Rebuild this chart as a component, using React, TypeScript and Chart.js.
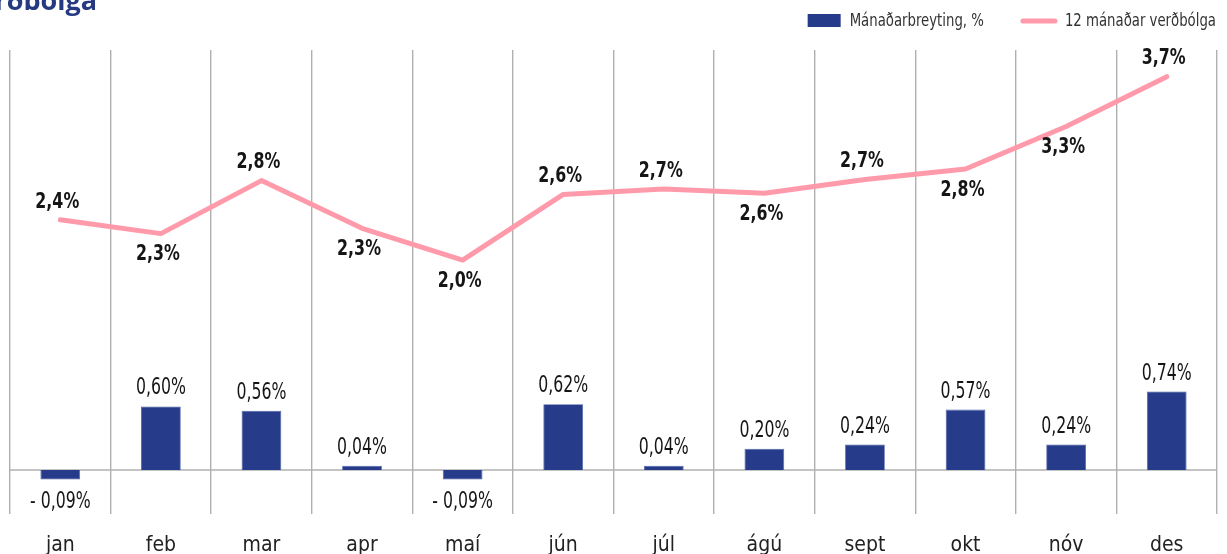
import React, { useEffect, useRef } from 'react';
import { Chart, registerables } from 'chart.js';

Chart.register(...registerables);

const chartTitle = 'Verðbólga';
const seriesNames = ['Mánaðarbreyting, %', '12 mánaðar verðbólga'];
const categories = ['jan', 'feb', 'mar', 'apr', 'maí', 'jún', 'júl', 'ágú', 'sept', 'okt', 'nóv', 'des'];
const monthlyChange = [-0.09, 0.6, 0.56, 0.04, -0.09, 0.62, 0.04, 0.2, 0.24, 0.57, 0.24, 0.74];
const inflation12m = [2.36, 2.23, 2.73, 2.28, 1.98, 2.6, 2.65, 2.61, 2.74, 2.84, 3.24, 3.71];
const inflationLabels = ['2,4%', '2,3%', '2,8%', '2,3%', '2,0%', '2,6%', '2,7%', '2,6%', '2,7%', '2,8%', '3,3%', '3,7%'];
const inflationLabelSide = ['above', 'below', 'above', 'below', 'below', 'above', 'above', 'below', 'above', 'below', 'below', 'above'];

const FONT = "'Liberation Sans Narrow', 'DejaVu Sans Condensed', 'Arial Narrow', 'Roboto', sans-serif";
const TITLE_FONT = "'Open Sans', 'Noto Sans', sans-serif";
const BAR_COLOR = '#263c8a';
const LINE_COLOR = '#ff9aab';
const GRID_COLOR = '#b0b0b0';
const TEXT_COLOR = '#151515';

const fmtBar = (v: number) => {
  const s = Math.abs(v).toFixed(2).replace('.', ',') + '%';
  return v < 0 ? '- ' + s : s;
};

// draw horizontally condensed text (the reference uses a condensed face)
const drawText = (ctx: any, text: string, x: number, y: number, sx: number, align: string) => {
  ctx.save();
  ctx.translate(x, y);
  ctx.scale(sx, 1);
  ctx.textAlign = align;
  ctx.fillText(text, 0, 0);
  ctx.restore();
};

const overlay = {
  id: 'overlay',
  beforeDatasetsDraw(chart: any) {
    const ctx = chart.ctx;
    const area = chart.chartArea;
    const y0 = chart.scales.y.getPixelForValue(0);
    ctx.save();
    ctx.strokeStyle = GRID_COLOR;
    ctx.lineWidth = 1.6;
    ctx.beginPath();
    ctx.moveTo(area.left, y0);
    ctx.lineTo(area.right, y0);
    ctx.stroke();
    ctx.restore();
  },
  afterDraw(chart: any) {
    const ctx = chart.ctx;
    ctx.save();
    ctx.textBaseline = 'middle';
    // bar labels
    const barMeta = chart.getDatasetMeta(0);
    ctx.fillStyle = TEXT_COLOR;
    ctx.font = `23px ${FONT}`;
    barMeta.data.forEach((el: any, i: number) => {
      const v = monthlyChange[i];
      const yy = v < 0 ? el.y + 22 : el.y - 18;
      drawText(ctx, fmtBar(v), el.x, yy, 0.76, 'center');
    });
    // line labels
    const lineMeta = chart.getDatasetMeta(1);
    ctx.font = `bold 22px ${FONT}`;
    lineMeta.data.forEach((el: any, i: number) => {
      const yy = inflationLabelSide[i] === 'above' ? el.y - 18 : el.y + 21;
      drawText(ctx, inflationLabels[i], el.x - 3, yy, 0.8, 'center');
    });
    // title (partially clipped as in the reference)
    ctx.font = `bold 27px ${TITLE_FONT}`;
    ctx.fillStyle = '#253a80';
    ctx.textAlign = 'right';
    ctx.textBaseline = 'alphabetic';
    ctx.fillText(chartTitle, 97, 10);
    // legend
    const SX = 0.82;
    ctx.font = `18px ${FONT}`;
    ctx.fillStyle = '#333333';
    ctx.textBaseline = 'middle';
    const ly = 21;
    const right = 1216;
    const w2 = ctx.measureText(seriesNames[1]).width * SX;
    const t2x = right - w2;
    drawText(ctx, seriesNames[1], t2x, ly, SX, 'left');
    const lineEnd = t2x - 8;
    const lineStart = lineEnd - 36;
    ctx.strokeStyle = LINE_COLOR;
    ctx.lineWidth = 5;
    ctx.lineCap = 'round';
    ctx.beginPath();
    ctx.moveTo(lineStart + 2, ly);
    ctx.lineTo(lineEnd - 2, ly);
    ctx.stroke();
    const w1 = ctx.measureText(seriesNames[0]).width * SX;
    const t1End = lineStart - 37;
    const t1x = t1End - w1;
    ctx.fillStyle = '#333333';
    drawText(ctx, seriesNames[0], t1x, ly, SX, 'left');
    ctx.fillStyle = BAR_COLOR;
    ctx.fillRect(t1x - 9 - 33, 14, 33, 13);
    ctx.restore();
  },
};

export default function App() {
  const ref = useRef<HTMLCanvasElement | null>(null);
  useEffect(() => {
    if (!ref.current) return;
    const chart = new Chart(ref.current, {
      type: 'bar',
      data: {
        labels: categories,
        datasets: [
          {
            type: 'bar',
            label: seriesNames[0],
            data: monthlyChange,
            backgroundColor: BAR_COLOR,
            borderColor: '#4a5fa8',
            borderWidth: 0.8,
            categoryPercentage: 1,
            barPercentage: 0.395,
            order: 2,
          },
          {
            type: 'line',
            label: seriesNames[1],
            data: inflation12m,
            borderColor: LINE_COLOR,
            backgroundColor: LINE_COLOR,
            borderWidth: 5,
            pointRadius: 0,
            tension: 0,
            borderCapStyle: 'round',
            borderJoinStyle: 'round',
            order: 1,
          },
        ],
      },
      options: {
        responsive: true,
        maintainAspectRatio: false,
        animation: false,
        layout: { padding: { left: 10, right: 10, top: 50, bottom: 0 } },
        plugins: {
          legend: { display: false },
          tooltip: { enabled: false },
          title: { display: false },
        },
        scales: {
          x: {
            offset: true,
            grid: { offset: true, color: GRID_COLOR, lineWidth: 1.4, drawTicks: false },
            border: { display: false },
            ticks: { color: '#222222', font: { family: FONT, size: 21 }, padding: 19 },
            afterFit: (s: any) => {
              s.height = 40;
            },
          },
          y: {
            display: false,
            min: -0.415,
            max: 3.962,
          },
        },
      },
      plugins: [overlay],
    } as any);
    return () => chart.destroy();
  }, []);
  return (
    <div style={{ position: 'fixed', left: 0, top: 0, width: 1227, height: 554, background: '#ffffff' }}>
      <canvas ref={ref} />
    </div>
  );
}
